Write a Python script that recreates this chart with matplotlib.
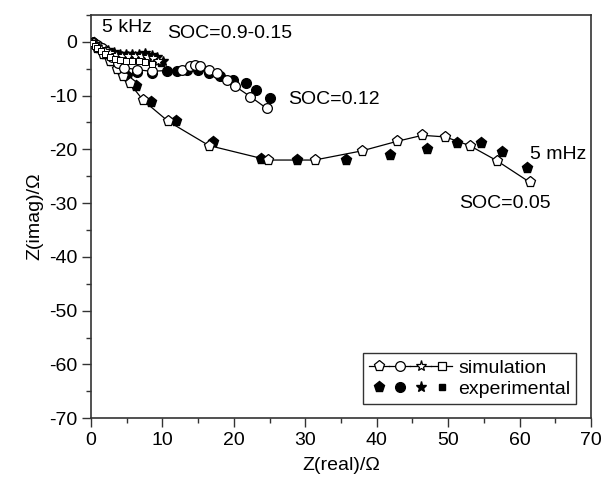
import matplotlib
matplotlib.use("Agg")
import matplotlib.pyplot as plt
from matplotlib.lines import Line2D
from matplotlib.legend_handler import HandlerTuple
from matplotlib.ticker import MultipleLocator

plt.rcParams['font.family'] = ['Liberation Sans', 'DejaVu Sans']
plt.rcParams['axes.unicode_minus'] = False

# SOC = 0.05 (pentagons)
sim05_x = [0.3, 0.9, 1.7, 2.6, 3.6, 4.5, 5.4, 7.3, 10.8, 16.5, 24.8, 31.3,
           37.9, 42.9, 46.4, 49.6, 53.0, 56.8, 61.4]
sim05_y = [-0.3, -1.1, -2.3, -3.6, -5.0, -6.4, -7.7, -10.9, -14.8, -19.3, -22.0, -22.0,
           -20.3, -18.5, -17.4, -17.7, -19.3, -22.1, -26.1]
exp05_x = [0.4, 1.1, 2.0, 3.0, 4.0, 5.0, 6.3, 8.4, 11.9, 17.1, 23.8, 28.8,
           35.7, 41.9, 47.1, 51.2, 54.6, 57.6, 61.0]
exp05_y = [-0.3, -1.1, -2.3, -3.6, -5.0, -6.4, -8.2, -11.2, -14.7, -18.6, -21.8, -22.0,
           -22.0, -21.0, -19.9, -18.9, -18.9, -20.5, -23.5]

# SOC = 0.12 (circles)
sim12_x = [0.3, 0.8, 1.5, 2.2, 3.0, 3.8, 4.6, 6.4, 8.5, 12.7, 13.9, 14.6,
           15.3, 16.5, 17.6, 19.0, 20.2, 22.3, 24.6]
sim12_y = [-0.2, -0.6, -1.2, -2.0, -2.9, -3.9, -4.8, -5.2, -5.5, -5.2, -4.6, -4.3,
           -4.6, -5.2, -5.8, -7.1, -8.3, -10.2, -12.4]
exp12_x = [0.3, 1.0, 1.8, 2.8, 3.8, 4.5, 6.5, 8.5, 10.6, 12.0, 13.5, 15.0,
           16.5, 18.0, 19.9, 21.7, 23.1, 25.1]
exp12_y = [-0.2, -0.8, -1.8, -3.0, -4.2, -5.5, -5.6, -5.8, -5.5, -5.4, -5.2, -5.3,
           -5.8, -6.3, -7.1, -7.6, -8.9, -10.4]

# SOC = 0.9-0.15 (stars and squares)
simst_x = [0.2, 0.5, 0.9, 1.4, 2.0, 2.7, 3.5, 4.3, 5.2, 6.1, 7.0, 7.9, 8.7, 9.4]
simst_y = [-0.2, -0.5, -0.9, -1.3, -1.7, -2.1, -2.4, -2.6, -2.7, -2.7, -2.7, -2.8, -3.1, -3.6]
expst_x = [0.2, 0.6, 1.1, 1.7, 2.4, 3.2, 4.0, 4.9, 5.8, 6.7, 7.6, 8.5, 9.3, 10.1]
expst_y = [-0.1, -0.4, -0.8, -1.2, -1.6, -2.0, -2.2, -2.3, -2.3, -2.2, -2.1, -2.4, -2.9, -3.5]
simsq_x = [0.2, 0.5, 0.9, 1.4, 2.0, 2.6, 3.3, 4.1, 4.9, 5.8, 6.7, 7.6, 8.5]
simsq_y = [-0.3, -0.7, -1.2, -1.7, -2.3, -2.8, -3.2, -3.4, -3.5, -3.5, -3.5, -3.7, -4.1]
expsq_x = [0.3, 0.7, 1.2, 1.8, 2.5, 3.2, 4.0, 4.9, 5.8, 6.8, 7.8, 8.8, 9.8]
expsq_y = [-0.3, -0.8, -1.3, -1.9, -2.5, -2.9, -3.2, -3.4, -3.4, -3.3, -3.3, -3.5, -4.0]

fig = plt.figure(figsize=(6.03, 4.79), dpi=100)
ax = fig.add_axes([0.151, 0.127, 0.829, 0.842])

ax.plot(exp05_x, exp05_y, 'p', color='k', ms=8, ls='none', zorder=2)
ax.plot(exp12_x, exp12_y, 'o', color='k', ms=7, ls='none', zorder=2)
ax.plot(expst_x, expst_y, '*', color='k', ms=7, ls='none', zorder=2)
ax.plot(expsq_x, expsq_y, 's', color='k', ms=4.5, ls='none', zorder=2)

ax.plot(sim05_x, sim05_y, '-p', color='k', lw=0.9, ms=8, mfc='white', mec='k', mew=0.9, zorder=3)
ax.plot(sim12_x, sim12_y, '-o', color='k', lw=0.9, ms=7, mfc='white', mec='k', mew=0.9, zorder=3)
ax.plot(simst_x, simst_y, '-*', color='k', lw=0.8, ms=7, mfc='white', mec='k', mew=0.7, zorder=3)
ax.plot(simsq_x, simsq_y, '-s', color='k', lw=0.8, ms=4.5, mfc='white', mec='k', mew=0.7, zorder=3)

fs = 14
ax.text(1.5, 2.7, '5 kHz', fontsize=fs, va='center', ha='left')
ax.text(10.7, 1.5, 'SOC=0.9-0.15', fontsize=fs, va='center', ha='left')
ax.text(27.6, -10.8, 'SOC=0.12', fontsize=fs, va='center', ha='left')
ax.text(61.4, -21.0, '5 mHz', fontsize=fs, va='center', ha='left')
ax.text(51.6, -30.0, 'SOC=0.05', fontsize=fs, va='center', ha='left')

ax.set_xlim(0, 70)
ax.set_ylim(-70, 5)
ax.xaxis.set_major_locator(MultipleLocator(10))
ax.xaxis.set_minor_locator(MultipleLocator(5))
ax.yaxis.set_major_locator(MultipleLocator(10))
ax.yaxis.set_minor_locator(MultipleLocator(5))
ax.set_yticks(range(-70, 1, 10))
ax.tick_params(which='major', direction='out', length=6.5, width=1, labelsize=fs,
               top=False, right=False, color='#333333')
ax.tick_params(which='minor', direction='out', length=3.5, width=1,
               top=False, right=False, color='#333333')
for s in ax.spines.values():
    s.set_linewidth(1.2)
    s.set_color('#333333')

ax.set_xlabel('Z(real)/Ω', fontsize=fs, labelpad=6)
ax.set_ylabel('Z(imag)/Ω', fontsize=fs, labelpad=4)

sim_h = tuple(Line2D([], [], color='k', lw=0.9, marker=m, ms=s, mfc='white', mec='k', mew=0.9)
              for m, s in [('p', 8), ('o', 7), ('*', 8), ('s', 6)])
exp_h = tuple(Line2D([], [], color='k', ls='none', marker=m, ms=s)
              for m, s in [('p', 8), ('o', 7), ('*', 8), ('s', 5)])
leg = ax.legend([sim_h, exp_h], ['simulation', 'experimental'],
                handler_map={tuple: HandlerTuple(ndivide=None, pad=0.0)},
                loc='lower right', bbox_to_anchor=(0.97, 0.035),
                fontsize=fs, handlelength=4.3, handletextpad=0.3,
                borderpad=0.3, labelspacing=0.2, borderaxespad=0,
                numpoints=1, fancybox=False, framealpha=1, edgecolor='#333333')
leg.get_frame().set_linewidth(1.0)

fig.savefig('out.png', dpi=100)
